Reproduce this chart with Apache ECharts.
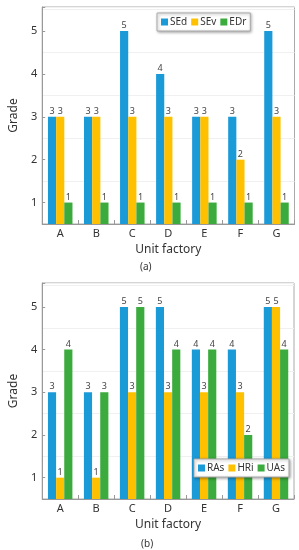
<!DOCTYPE html>
<html>
<head>
<meta charset="utf-8">
<script src="https://cdn.jsdelivr.net/npm/echarts@6/dist/echarts.min.js"></script>
<style>
html,body{margin:0;padding:0;background:#fff;}
#c{width:299px;height:550px;}
</style>
</head>
<body>
<div id="c"></div>
<script>
const categories = ['A','B','C','D','E','F','G'];
const seriesNamesA = ['SEd','SEv','EDr'];
const SEd = [3,3,5,4,3,3,5];
const SEv = [3,3,3,3,3,2,3];
const EDr = [1,1,1,1,1,1,1];
const seriesNamesB = ['RAs','HRi','UAs'];
const RAs = [3,3,5,5,4,4,5];
const HRi = [1,1,3,3,3,3,5];
const UAs = [4,3,5,4,4,2,4];
const yMin = 0.5, yMax = 5.56;

const colors = ['#1b9ad8','#ffc000','#3aab3c'];
const FONT = 'Noto Sans';

const chart = echarts.init(document.getElementById('c'), null, {renderer:'canvas'});

function yAxes(gi){
  return [
    {
      gridIndex: gi, type:'value', min:yMin, max:yMax, minInterval:1, maxInterval:1,
      name:'Grade', nameLocation:'middle', nameGap:22,
      nameTextStyle:{fontFamily:FONT,fontSize:12,color:'#333'},
      axisLine:{show:true,lineStyle:{color:'#999'}},
      axisTick:{show:true,inside:true,length:3,lineStyle:{color:'#999'}},
      axisLabel:{fontFamily:FONT,fontSize:11,color:'#333',margin:5,
        formatter:v=> (Math.abs(v-Math.round(v))<1e-6 ? String(Math.round(v)) : '')},
      splitLine:{show:false}
    },
    {
      gridIndex: gi, type:'value', min:yMin, max:yMax, interval:1, position:'left',
      axisLine:{show:false}, axisTick:{show:false}, axisLabel:{show:false},
      splitLine:{show:true,lineStyle:{color:'#f0f0f0',width:1}}
    }
  ];
}
function xAxis(gi){
  return {
    gridIndex: gi, type:'category', data:categories,
    name:'Unit factory', nameLocation:'middle', nameGap:20,
    nameTextStyle:{fontFamily:FONT,fontSize:12,color:'#333'},
    axisLine:{show:true,lineStyle:{color:'#999'}},
    axisTick:{show:true,inside:true,length:4,lineStyle:{color:'#999'}},
    axisLabel:{fontFamily:FONT,fontSize:11,color:'#333',margin:4},
    splitLine:{show:false}
  };
}
function bars(names, arrs, xi, yi){
  return names.map((n,i)=>({
    name:n, type:'bar', xAxisIndex:xi, yAxisIndex:yi, data:arrs[i],
    itemStyle:{color:colors[i]},
    barGap:'0%', barCategoryGap:'32%',
    label:{show:true,position:'top',distance:1,fontFamily:FONT,fontSize:9,color:'#444'}
  }));
}
const legendCommon = {
  orient:'horizontal', itemWidth:7, itemHeight:7, itemGap:4,
  icon:'rect', width:120,
  textStyle:{fontFamily:FONT,fontSize:10,color:'#333',padding:[0,0,0,-3]},
  backgroundColor:'#fff', borderColor:'#aaa', borderWidth:1,
  shadowBlur:3, shadowColor:'rgba(0,0,0,0.35)', shadowOffsetX:1, shadowOffsetY:1,
  padding:[4,4,4,4]
};

chart.setOption({
  animation:false,
  color:colors,
  grid:[
    {left:32, top:7, right:4.5, bottom:326, show:true, borderColor:'#aaa', borderWidth:1},
    {left:33, top:283, right:5, bottom:51, show:true, borderColor:'#aaa', borderWidth:1}
  ],
  xAxis:[xAxis(0), xAxis(1)],
  yAxis:[...yAxes(0), ...yAxes(1)],
  legend:[
    Object.assign({data:seriesNamesA, left:157, top:13}, legendCommon),
    Object.assign({data:seriesNamesB, left:194, top:459}, legendCommon)
  ],
  title:[
    {text:'(a)', left:140, top:262, textStyle:{fontFamily:FONT,fontSize:10,fontWeight:'normal',color:'#333'}, padding:0},
    {text:'(b)', left:141, top:539, textStyle:{fontFamily:FONT,fontSize:10,fontWeight:'normal',color:'#333'}, padding:0}
  ],
  series:[
    ...bars(seriesNamesA, [SEd,SEv,EDr], 0, 0),
    ...bars(seriesNamesB, [RAs,HRi,UAs], 1, 2)
  ]
});
</script>
</body>
</html>
